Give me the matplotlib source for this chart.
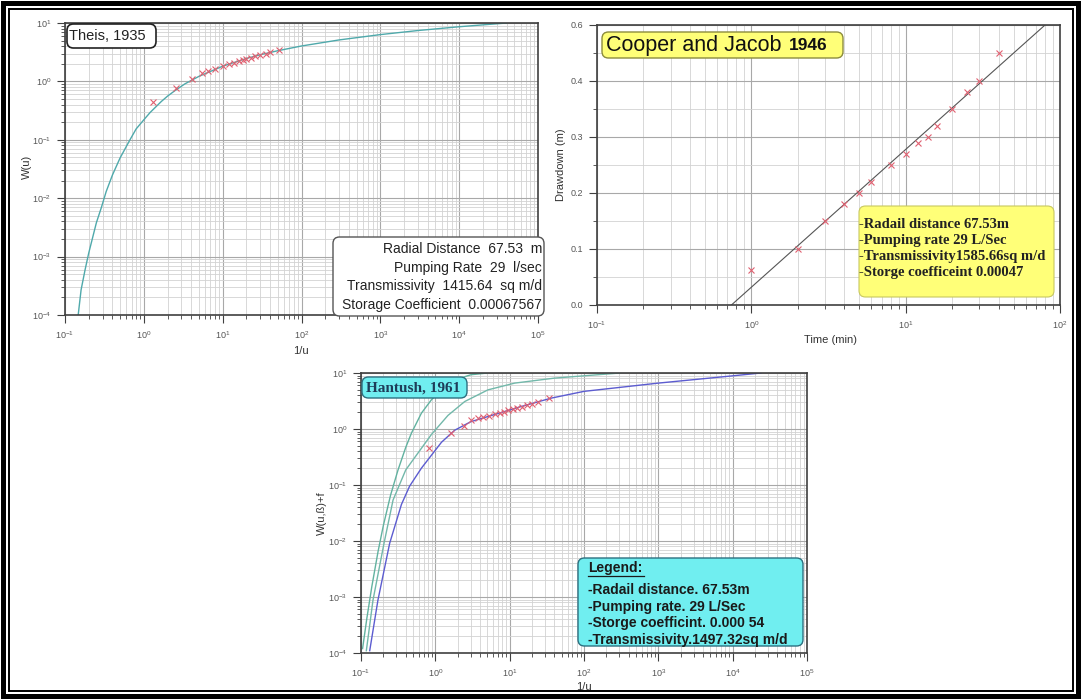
import matplotlib
matplotlib.use("Agg")
import matplotlib.pyplot as plt
from matplotlib.patches import FancyBboxPatch, Rectangle
from matplotlib.lines import Line2D
from matplotlib.ticker import LogLocator, NullFormatter, MultipleLocator, FixedLocator, FixedFormatter

plt.rcParams['font.family'] = ['Liberation Sans', 'DejaVu Sans']

# ---- Theis, 1935 (type curve + field points) ----
theis_inv_u = [0.147, 0.16, 0.18, 0.2, 0.25, 0.29, 0.333, 0.4, 0.5, 0.667, 0.8, 1.0, 1.2, 1.43,
               1.67, 2.0, 2.5, 3.33, 5.0, 10, 20, 30, 50, 100, 300, 1000, 3000, 1e4, 4e4]
theis_w = [1e-4, 2.7e-4, 6.0e-4, 1.15e-3, 3.8e-3, 7.0e-3, 1.3e-2, 2.5e-2, 4.9e-2, 0.10, 0.154, 0.22,
           0.293, 0.37, 0.454, 0.56, 0.70, 0.91, 1.22, 1.82, 2.47, 2.86, 3.35, 4.04, 5.13, 6.33, 7.43,
           8.63, 10.0]
theis_pts_x = [1.31, 2.58, 4.04, 5.4, 6.5, 8, 10, 12, 14, 16, 18, 20, 23, 26, 30, 35, 40, 52]
theis_pts_y = [0.44, 0.76, 1.10, 1.38, 1.50, 1.65, 1.82, 1.95, 2.1, 2.2, 2.3, 2.45, 2.55, 2.7,
               2.85, 3.0, 3.15, 3.45]
theis_info = ["Radial Distance  67.53  m", "Pumping Rate  29  l/sec",
              "Transmissivity  1415.64  sq m/d", "Storage Coefficient  0.00067567"]

# ---- Cooper and Jacob 1946 ----
cj_time = [1, 2, 3, 4, 5, 6, 8, 10, 12, 14, 16, 20, 25, 30, 40]
cj_drawdown = [0.062, 0.10, 0.15, 0.18, 0.20, 0.22, 0.25, 0.27, 0.29, 0.30, 0.32, 0.35, 0.38, 0.40, 0.45]
cj_fit_t = [0.743, 80.0]
cj_fit_s = [0.0, 0.5]
cj_yticks = [0.0, 0.1, 0.2, 0.3, 0.4, 0.5]
cj_ylabels = ["0.0", "0.1", "0.2", "0.3", "0.4", "0.6"]
cj_info = ["-Radail distance 67.53m", "-Pumping rate 29 L/Sec",
           "-Transmissivity1585.66sq m/d", "-Storge coefficeint 0.00047"]

# ---- Hantush, 1961 ----
hant_a_x = [0.105, 0.12, 0.14, 0.17, 0.2, 0.25, 0.315, 0.4, 0.477, 0.65, 0.887, 1.3, 2.0, 3.0, 5.0]
hant_a_y = [1.2e-4, 4.2e-4, 1.55e-3, 6.6e-3, 0.019, 0.066, 0.186, 0.47, 0.845, 1.92, 3.33, 5.4,
            7.8, 9.3, 10.0]
hant_b_x = [0.118, 0.145, 0.204, 0.27, 0.4, 0.887, 1.48, 2.49, 5.1, 11.7, 40, 305]
hant_b_y = [1.1e-4, 8.8e-4, 9.1e-3, 0.054, 0.186, 0.8, 1.75, 3.1, 5.0, 6.6, 8.1, 10.0]
hant_c_x = [0.131, 0.169, 0.243, 0.35, 0.45, 0.65, 1.21, 1.82, 3.0, 5.1, 14.4, 36.6, 100, 1000,
            1e4, 2.4e4]
hant_c_y = [1.1e-4, 8.8e-4, 9.1e-3, 0.045, 0.095, 0.2, 0.58, 0.95, 1.35, 1.67, 2.53, 3.57, 4.7,
            6.6, 8.9, 10.0]
hant_pts_x = [0.81, 1.65, 2.4, 3.06, 3.7, 4.4, 5.3, 6.3, 7.3, 8.4, 9.5, 11, 12.5, 14.5, 17, 20, 24, 34]
hant_pts_y = [0.45, 0.85, 1.15, 1.42, 1.55, 1.62, 1.72, 1.85, 1.95, 2.05, 2.15, 2.25, 2.38, 2.5,
              2.65, 2.8, 3.0, 3.55]
hant_info = ["-Radail distance. 67.53m", "-Pumping rate. 29 L/Sec",
             "-Storge coefficint. 0.000 54", "-Transmissivity.1497.32sq m/d"]

W, H = 1081, 699
fig = plt.figure(figsize=(W / 100, H / 100), dpi=100)
fig.patch.set_facecolor('white')


def fx(px):
    return px / W


def fy(py):
    return 1 - py / H


def make_axes(left, top, right, bottom):
    return fig.add_axes([fx(left), fy(bottom), (right - left) / W, (bottom - top) / H])


def style_axes(ax, logy=True):
    ax.set_xscale('log')
    if logy:
        ax.set_yscale('log')
    ax.set_axisbelow(True)
    ax.grid(which='major', color='#a8a8a8', lw=0.8)
    ax.grid(which='minor', color='#d2d2d2', lw=0.6)
    for sp in ax.spines.values():
        sp.set_color('#404040')
        sp.set_linewidth(1.2)
    ax.tick_params(which='major', direction='out', length=6, width=0.8, color='#404040',
                   labelsize=6.5, labelcolor='#555555', pad=4)
    ax.tick_params(which='minor', direction='out', length=3, width=0.6, color='#404040')
    ax.xaxis.set_minor_locator(LogLocator(base=10, subs=range(2, 10), numticks=20))
    ax.xaxis.set_minor_formatter(NullFormatter())
    if logy:
        ax.yaxis.set_minor_locator(LogLocator(base=10, subs=range(2, 10), numticks=20))
        ax.yaxis.set_minor_formatter(NullFormatter())


def rbox(x0, y0, x1, y1, fc, ec, lw=1.0):
    p = FancyBboxPatch((fx(x0), fy(y1)), (x1 - x0) / W, (y1 - y0) / H,
                       boxstyle="round,pad=0,rounding_size=0.006", mutation_aspect=W / H,
                       transform=fig.transFigure, facecolor=fc, edgecolor=ec, lw=lw, zorder=2)
    fig.patches.append(p)


def ftext(px, py, s, **kw):
    fig.text(fx(px), fy(py), s, zorder=4, **kw)


# Theis panel
ax1 = make_axes(65, 23, 538, 315)
style_axes(ax1)
ax1.plot(theis_inv_u, theis_w, color='#4fa9ab', lw=1.0)
ax1.plot(theis_pts_x, theis_pts_y, 'x', color='#e06070', ms=4, mew=0.8)
ax1.set_xlim(0.1, 1e5)
ax1.set_ylim(1e-4, 10)
ftext(27, 167, "W(u)", rotation=90, ha='center', va='center', fontsize=8, color='#333333')
ftext(301, 351, "1/u", ha='center', va='center', fontsize=8, color='#333333')
rbox(67, 24, 156, 48, 'white', '#222222', lw=1.2)
ftext(69, 36, "Theis, 1935", ha='left', va='center', fontsize=10.5, color='#222222')
rbox(333, 237, 544, 316, 'white', '#555555', lw=1.0)
for i, line in enumerate(theis_info):
    ftext(542, 249 + i * 18.7, line, ha='right', va='center', fontsize=10, color='#222222')

# Cooper and Jacob panel
ax2 = make_axes(597, 25, 1060, 305)
style_axes(ax2, logy=False)
ax2.plot(cj_fit_t, cj_fit_s, color='#555555', lw=0.8)
ax2.plot(cj_time, cj_drawdown, 'x', color='#e06070', ms=4, mew=0.8)
ax2.set_xlim(0.1, 100)
ax2.set_ylim(0, 0.5)
ax2.yaxis.set_major_locator(FixedLocator(cj_yticks))
ax2.yaxis.set_major_formatter(FixedFormatter(cj_ylabels))
ax2.yaxis.set_minor_locator(MultipleLocator(0.05))
ftext(561, 165, "Drawdown (m)", rotation=90, ha='center', va='center', fontsize=8, color='#333333')
ftext(830, 340, "Time (min)", ha='center', va='center', fontsize=8, color='#333333')
rbox(602, 32, 843, 58, '#ffff78', '#8c8c3c', lw=1.0)
ftext(606, 45, "Cooper and Jacob", ha='left', va='center', fontsize=15.5, color='#111111')
ftext(789, 46, "1946", ha='left', va='center', fontsize=12.5, fontweight='bold', color='#111111')
rbox(859, 206, 1054, 297, '#ffff78', '#c8c860', lw=0.8)
for i, line in enumerate(cj_info):
    ftext(859, 224 + i * 16.1, line, ha='left', va='center', fontsize=10.5,
          family='Liberation Serif', fontweight='bold', color='#222222')

# Hantush panel
ax3 = make_axes(361, 373, 807, 653)
style_axes(ax3)
ax3.plot(hant_a_x, hant_a_y, color='#62b2a0', lw=1.0)
ax3.plot(hant_b_x, hant_b_y, color='#72b8aa', lw=1.0)
ax3.plot(hant_c_x, hant_c_y, color='#5c5cd0', lw=1.0)
ax3.plot(hant_pts_x, hant_pts_y, 'x', color='#e06070', ms=4, mew=0.8)
ax3.set_xlim(0.1, 1e5)
ax3.set_ylim(1e-4, 10)
ftext(322, 513, "W(u,ß)+f", rotation=90, ha='center', va='center', fontsize=8, color='#333333')
ftext(584, 687, "1/u", ha='center', va='center', fontsize=8, color='#333333')
rbox(362, 377, 467, 398, '#70eef0', '#2c7080', lw=1.0)
ftext(366, 388, "Hantush, 1961", ha='left', va='center', fontsize=11,
      family='Liberation Serif', fontweight='bold', color='#1e3d59')
rbox(578, 558, 803, 646, '#70eef0', '#2c7080', lw=1.0)
ftext(588, 568, "Legend:", ha='left', va='center', fontsize=10, fontweight='bold', color='#1a1a1a')
fig.lines.append(Line2D([fx(588), fx(644)], [fy(576), fy(576)], transform=fig.transFigure,
                        color='#1a1a1a', lw=0.9, zorder=4))
for i, line in enumerate(hant_info):
    ftext(588, 590 + i * 16.7, line, ha='left', va='center', fontsize=10, fontweight='bold',
          color='#1a1a1a')

# double black frame round the whole picture
fig.patches.append(Rectangle((fx(3), 3 / H), (W - 6) / W, (H - 6) / H, transform=fig.transFigure,
                             fill=False, edgecolor='black', lw=3.6, zorder=5))
fig.patches.append(Rectangle((fx(8.5), 8.5 / H), (W - 17) / W, (H - 17) / H,
                             transform=fig.transFigure, fill=False, edgecolor='black', lw=1.4,
                             zorder=5))

fig.savefig('out.png', dpi=100, facecolor='white')
